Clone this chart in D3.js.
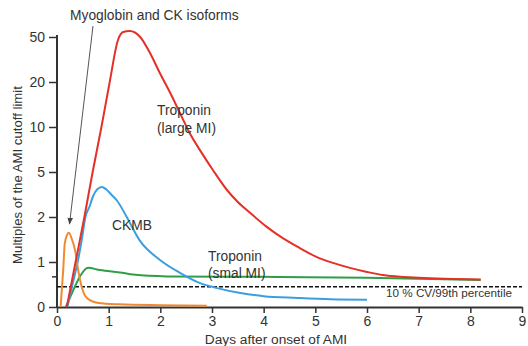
<!DOCTYPE html>
<html>
<head>
<meta charset="utf-8">
<script src="https://cdn.jsdelivr.net/npm/d3@7"></script>
<style>
  body { margin: 0; background: #fff; }
  svg text { font-family: "Liberation Sans", Arial, sans-serif; fill: #333; }
</style>
</head>
<body>
<div id="chart"></div>
<script>
// tick labels
const xTicks = [0, 1, 2, 3, 4, 5, 6, 7, 8, 9];
const yTicks = [0, 1, 2, 5, 10, 20, 50];

// series: [day, multiple of cutoff]
const myoglobin = [[0.07, 0], [0.12, 0.82], [0.15, 1.41], [0.19, 1.59], [0.23, 1.65], [0.29, 1.5],
  [0.35, 1.26], [0.41, 0.82], [0.48, 0.44], [0.58, 0.2], [0.8, 0.09], [1.2, 0.06], [2.0, 0.04], [2.9, 0.03]];
const troponinLarge = [[0.19, 0], [0.36, 1], [0.53, 2], [0.69, 5], [0.86, 10], [1.02, 20], [1.18, 48],
  [1.28, 53.3], [1.41, 54], [1.61, 50], [1.8, 39.3], [1.99, 26], [2.19, 17.6], [2.38, 13.1],
  [2.57, 9.3], [2.77, 7.4], [3.02, 5.2], [3.29, 3.8], [3.5, 3.0], [3.74, 2.27], [4.06, 1.78],
  [4.37, 1.53], [4.7, 1.31], [5.03, 1.11], [5.34, 0.98], [5.67, 0.87], [6.0, 0.78], [6.31, 0.71],
  [6.64, 0.67], [7.0, 0.65], [8.2, 0.61]];
const ckmb = [[0.2, 0], [0.3, 0.5], [0.4, 1.0], [0.48, 1.5], [0.55, 2.0], [0.63, 2.7], [0.7, 3.4],
  [0.78, 3.85], [0.87, 4.0], [0.95, 3.85], [1.05, 3.5], [1.16, 3.1], [1.35, 2.0], [1.6, 1.48],
  [2.0, 1.04], [2.38, 0.76], [2.77, 0.53], [3.1, 0.42], [3.55, 0.31], [4.0, 0.24], [4.65, 0.2],
  [5.3, 0.17], [6.0, 0.16]];
const troponinSmall = [[0.17, 0], [0.29, 0.31], [0.45, 0.69], [0.6, 0.87], [0.83, 0.82], [1.26, 0.76],
  [1.47, 0.72], [2.12, 0.68], [3.93, 0.67], [6.0, 0.65], [8.2, 0.6]];
const cutoff = 0.45;

const width = 528, height = 346;
const x0 = 57, x1 = 522, yBottom = 307, step = 45;

const svg = d3.select('#chart').append('svg')
  .attr('width', width)
  .attr('height', height);

const x = d3.scaleLinear().domain([0, 9]).range([x0, x1]);
// evenly spaced, non-linear ticks
const y = d3.scaleLinear()
  .domain(yTicks)
  .range(yTicks.map((d, i) => yBottom - i * step));

// axes
const xAxis = svg.append('g')
  .attr('transform', `translate(0,${yBottom})`)
  .call(d3.axisBottom(x).tickValues(xTicks).tickSize(6).tickSizeOuter(0).tickPadding(3));
const yAxis = svg.append('g')
  .attr('transform', `translate(${x0},0)`)
  .call(d3.axisLeft(y).tickValues(yTicks).tickSize(8).tickSizeOuter(0).tickPadding(4));

[xAxis, yAxis].forEach(a => {
  a.select('.domain').attr('stroke', '#333').attr('stroke-width', 2);
  a.selectAll('.tick line').attr('stroke', '#333').attr('stroke-width', 1.5);
  a.selectAll('.tick text').style('font-size', '14px').attr('fill', '#333')
    .style('font-family', '"Liberation Sans", Arial, sans-serif');
});
yAxis.select('.domain').attr('d', `M0,${yBottom}V35`);
// small unlabeled tick under 1
yAxis.append('line').attr('x1', -5).attr('x2', 0)
  .attr('y1', y(0.67)).attr('y2', y(0.67)).attr('stroke', '#333').attr('stroke-width', 1.5);

// cutoff line
svg.append('line')
  .attr('x1', x(0)).attr('x2', x(9))
  .attr('y1', y(cutoff)).attr('y2', y(cutoff))
  .attr('stroke', '#111').attr('stroke-width', 1.5).attr('stroke-dasharray', '4,2');

const line = d3.line()
  .x(d => x(d[0]))
  .y(d => y(d[1]))
  .curve(d3.curveMonotoneX);

const series = [
  { data: troponinSmall, color: '#2e9e48' },
  { data: ckmb, color: '#3b9ee0' },
  { data: myoglobin, color: '#f08a30' },
  { data: troponinLarge, color: '#e53027' },
];
series.forEach(s => {
  svg.append('path')
    .datum(s.data)
    .attr('d', line)
    .attr('fill', 'none')
    .attr('stroke', s.color)
    .attr('stroke-width', 2);
});

// arrow
svg.append('defs').append('marker')
  .attr('id', 'arrow')
  .attr('viewBox', '0 0 10 10')
  .attr('refX', 9).attr('refY', 5)
  .attr('markerWidth', 7).attr('markerHeight', 7)
  .attr('orient', 'auto')
  .append('path').attr('d', 'M0,1L10,5L0,9Z').attr('fill', '#444');
svg.append('line')
  .attr('x1', 93).attr('y1', 26)
  .attr('x2', 69.5).attr('y2', 224)
  .attr('stroke', '#555').attr('stroke-width', 1)
  .attr('marker-end', 'url(#arrow)');

// labels
const label = (tx, ty, txt, size) => svg.append('text')
  .attr('x', tx).attr('y', ty).style('font-size', size + 'px').text(txt);

label(70, 20, 'Myoglobin and CK isoforms', 13.8);
label(157, 115, 'Troponin', 13.8);
label(157, 133, '(large MI)', 13.8);
label(112, 230, 'CKMB', 13.8);
label(208, 261, 'Troponin', 13.8);
label(208, 278, '(smal MI)', 13.8);
label(386, 297, '10 % CV/99th percentile', 11.7);

svg.append('text')
  .attr('x', 276).attr('y', 344)
  .attr('text-anchor', 'middle')
  .style('font-size', '13.7px')
  .text('Days after onset of AMI');

svg.append('text')
  .attr('transform', 'translate(22,175) rotate(-90)')
  .attr('text-anchor', 'middle')
  .style('font-size', '13.2px')
  .text('Multiples of the AMI cutoff limit');
</script>
</body>
</html>
